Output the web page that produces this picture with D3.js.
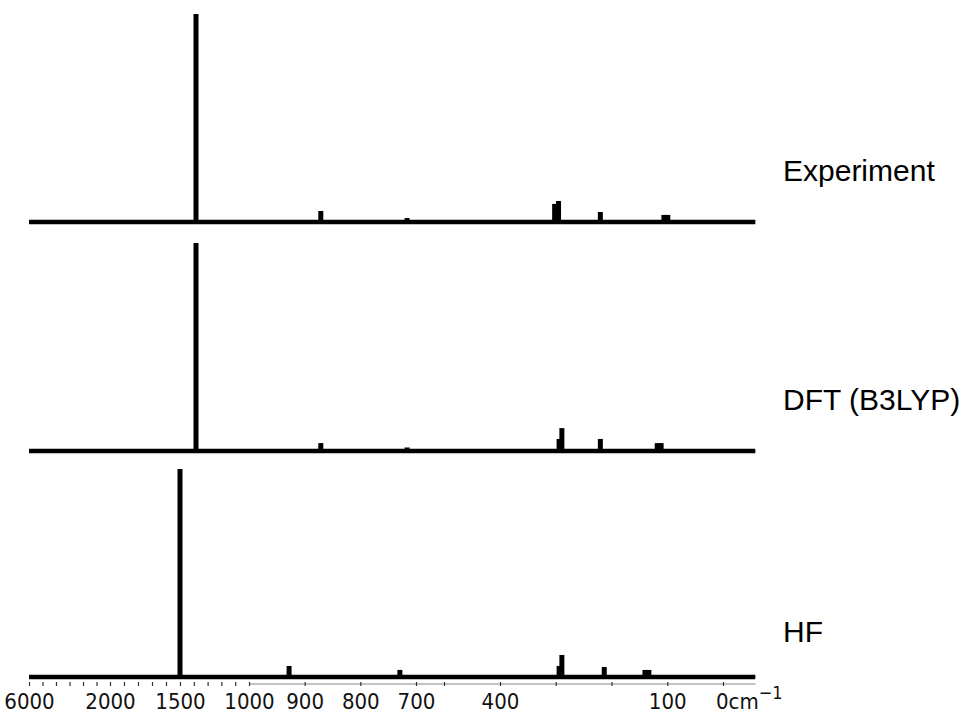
<!DOCTYPE html>
<html>
<head>
<meta charset="utf-8">
<script src="https://cdn.jsdelivr.net/npm/d3@7"></script>
<style>
    body { margin: 0; background: #fff; }
    svg { display: block; }
    .panel-label { font-family: "Liberation Sans", Arial, sans-serif; font-size: 30px; fill: #000; }
    .tick-label text { font-family: "DejaVu Sans Condensed", "DejaVu Sans", sans-serif; font-size: 22px; fill: #111; }
</style>
</head>
<body>
<svg id="chart"></svg>
<script>
// spectra: [wavenumber cm-1, relative intensity]
const experiment = [
    [1384, 100], [871, 5.3], [716, 1.9],
    [302, 8.7], [295, 10.1], [220, 4.8], [106, 3.4], [99, 3.4]
];
const dft = [
    [1384, 100], [871, 3.8], [716, 1.7],
    [294, 5.8], [289, 11.0], [220, 5.8], [118, 3.8], [111, 3.8]
];
const hf = [
    [1500, 100], [928, 5.3], [729, 3.4],
    [294, 5.3], [289, 10.6], [213, 4.8], [140, 3.4], [133, 3.4]
];
const panelNames = ["Experiment", "DFT (B3LYP)", "HF"];

// broken wavenumber axis
const axisBreaks = [6000, 2000, 1500, 1000, 700, 400, 0];
const axisEnd = -58;
const minorTicks = [6000, 5333, 4667, 4000, 3333, 2667, 2000,
    1900, 1800, 1700, 1600, 1500, 1400, 1300, 1200, 1100, 1000,
    900, 800, 700, 600, 400, 300, 200, 100, 0];
const tickLabels = [6000, 2000, 1500, 1000, 900, 800, 700, 400, 100];

const width = 970, height = 714;
const svg = d3.select("#chart").attr("width", width).attr("height", height);

const x = d3.scaleLinear()
    .domain(axisBreaks)
    .range([29, 110, 180, 249, 416, 500, 723]);

const panels = [
    { name: panelNames[0], data: experiment, base: 222, labelY: 181 },
    { name: panelNames[1], data: dft, base: 451, labelY: 410 },
    { name: panelNames[2], data: hf, base: 677, labelY: 642 }
];
const peakHeight = 208;
const stickWidth = 5;

panels.forEach((p) => {
    const y = d3.scaleLinear().domain([0, 100]).range([p.base, p.base - peakHeight]);
    const g = svg.append("g");

    g.append("line")
        .attr("x1", x(6000)).attr("x2", x(axisEnd))
        .attr("y1", y(0)).attr("y2", y(0))
        .attr("stroke", "#000").attr("stroke-width", 4.5);

    g.selectAll("rect")
        .data(p.data)
        .join("rect")
        .attr("x", (d) => x(d[0]) - stickWidth / 2)
        .attr("width", stickWidth)
        .attr("y", (d) => y(d[1]))
        .attr("height", (d) => y(0) - y(d[1]))
        .attr("fill", "#000");

    svg.append("text")
        .attr("class", "panel-label")
        .attr("x", 783)
        .attr("y", p.labelY)
        .text(p.name);
});

// faint axis rule under the lowest spectrum
svg.append("line")
    .attr("x1", x(1000)).attr("x2", x(axisEnd))
    .attr("y1", 684).attr("y2", 684)
    .attr("stroke", "#666").attr("stroke-width", 0.8);

const minorAxis = d3.axisBottom(x)
    .tickValues(minorTicks)
    .tickSize(4)
    .tickFormat("");
svg.append("g")
    .attr("transform", "translate(0,682)")
    .call(minorAxis)
    .call((g) => g.select(".domain").remove())
    .call((g) => g.selectAll("line").attr("stroke", "#333").attr("stroke-width", 1.2));

const labelAxis = d3.axisBottom(x)
    .tickValues(tickLabels)
    .tickSize(0)
    .tickPadding(0)
    .tickFormat(d3.format("d"));
svg.append("g")
    .attr("class", "tick-label")
    .attr("transform", "translate(0,693)")
    .call(labelAxis)
    .call((g) => g.select(".domain").remove())
    .call((g) => g.selectAll("text").attr("dy", "0.71em").attr("font-size", null).attr("font-family", null));

// zero label with unit
const zeroLabel = svg.append("text")
    .attr("x", x(0) - 7)
    .attr("y", 709)
    .attr("font-family", "\"DejaVu Sans Condensed\", \"DejaVu Sans\", sans-serif")
    .attr("font-size", 22)
    .attr("fill", "#111");
zeroLabel.append("tspan").text("0cm");
zeroLabel.append("tspan").attr("dy", -10).attr("font-size", 18).text("−1");
</script>
</body>
</html>
